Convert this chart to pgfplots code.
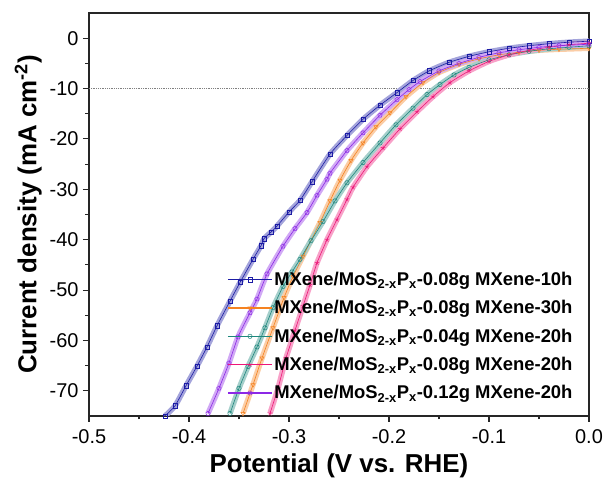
\documentclass[border=0pt]{standalone}
\usepackage{fontspec}
\setmainfont{Liberation Sans}
\usepackage{pgfplots}
\pgfplotsset{compat=1.18}
\usetikzlibrary{calc}
\definecolor{cblue}{RGB}{28,28,165}
\definecolor{corange}{RGB}{245,130,32}
\definecolor{cteal}{RGB}{30,135,125}
\definecolor{cpink}{RGB}{238,22,120}
\definecolor{cpurple}{RGB}{140,40,230}
\begin{document}
\begin{tikzpicture}
\begin{axis}[
  scale only axis, width=500bp, height=403bp,
  xmin=-0.5, xmax=0, ymin=-75, ymax=5,
  xtick={-0.5,-0.4,-0.3,-0.2,-0.1,0},
  ytick={-70,-60,-50,-40,-30,-20,-10,0},
  minor x tick num=1, minor y tick num=1,
  tick pos=left, tick align=outside,
  major tick length=6bp, minor tick length=3.5bp,
  axis line style={line width=1.2bp, black!85},
  every tick/.style={line width=1.1bp, black!85},
  /pgf/number format/assume math mode=true,
  ticklabel style={font=\fontsize{20}{24}\selectfont},
  xticklabel style={/pgf/number format/fixed, /pgf/number format/fixed zerofill, /pgf/number format/precision=1, yshift=-4bp},
  yticklabel style={xshift=-1bp},
  xlabel={\bfseries Potential (V vs. RHE)},
  ylabel={\bfseries Current density (mA cm\textsuperscript{-2})},
  label style={font=\fontsize{26}{30}\selectfont},
  xlabel style={yshift=-3bp},
  ylabel style={yshift=1bp},
  legend cell align=left,
  legend style={at={(0.27,0.366)}, anchor=north west, draw=none, fill=none,
    font=\bfseries\fontsize{18.5}{22}\selectfont, row sep=10.5bp,
    nodes={inner sep=1.5bp}},
  legend image code/.code={\draw[mark repeat=2,mark phase=2,#1,line width=1.6bp] plot coordinates {(0bp,0bp)(22bp,0bp)(44bp,0bp)};},
]
\addplot[gray, densely dotted, line width=0.8bp, forget plot] coordinates {(-0.5,-10)(0,-10)};

% bands
\addplot[cblue!40, line width=5.5bp, forget plot, smooth, tension=0.3] coordinates {
(-0.424,-75)(-0.414,-73)(-0.403,-69)(-0.392,-65.1)(-0.382,-61.3)(-0.372,-57.1)(-0.359,-52.2)(-0.349,-48.5)(-0.336,-43.9)(-0.328,-41.2)(-0.325,-39.8)(-0.318,-38.5)(-0.312,-37.3)(-0.300,-34.5)(-0.289,-32.2)(-0.277,-28.5)(-0.259,-23)(-0.242,-19.3)(-0.226,-16.1)(-0.209,-13.3)(-0.192,-10.8)(-0.176,-8.4)(-0.16,-6.5)(-0.14,-4.8)(-0.12,-3.6)(-0.10,-2.7)(-0.08,-2.0)(-0.06,-1.5)(-0.04,-1.1)(-0.02,-0.8)(0,-0.6)};
\addplot[corange!40, line width=5.5bp, forget plot, smooth, tension=0.3] coordinates {
(-0.346,-74.5)(-0.336,-68.8)(-0.327,-63.5)(-0.316,-57.5)(-0.305,-51.5)(-0.296,-47.3)(-0.286,-43.3)(-0.269,-36.6)(-0.259,-32.3)(-0.249,-28.2)(-0.238,-24.3)(-0.226,-20.8)(-0.213,-17.6)(-0.199,-14.8)(-0.183,-11.6)(-0.166,-8.8)(-0.15,-6.8)(-0.13,-5.2)(-0.11,-4.1)(-0.09,-3.3)(-0.07,-2.8)(-0.05,-2.4)(-0.03,-2.2)(0,-2.0)};
\addplot[cteal!40, line width=5.5bp, forget plot, smooth, tension=0.3] coordinates {
(-0.359,-74.5)(-0.350,-69.5)(-0.341,-65.2)(-0.332,-61.3)(-0.324,-57.5)(-0.316,-53.5)(-0.306,-49.3)(-0.297,-46.4)(-0.289,-43.9)(-0.278,-40.2)(-0.266,-36.4)(-0.254,-32.3)(-0.242,-28.7)(-0.226,-24.7)(-0.209,-20.8)(-0.193,-17.2)(-0.176,-13.9)(-0.162,-11.2)(-0.149,-9.2)(-0.135,-7.3)(-0.12,-5.8)(-0.10,-4.3)(-0.08,-3.3)(-0.06,-2.6)(-0.04,-2.1)(-0.02,-1.8)(0,-1.5)};
\addplot[cpink!40, line width=5.5bp, forget plot, smooth, tension=0.3] coordinates {
(-0.319,-74.5)(-0.311,-69.5)(-0.303,-63.5)(-0.294,-58)(-0.286,-53.2)(-0.279,-49)(-0.272,-44.6)(-0.262,-40)(-0.252,-36)(-0.242,-32)(-0.236,-29.6)(-0.222,-25.5)(-0.206,-21.8)(-0.189,-18.0)(-0.172,-14.6)(-0.156,-11.6)(-0.139,-8.8)(-0.12,-6.5)(-0.10,-4.6)(-0.08,-3.3)(-0.06,-2.4)(-0.04,-1.8)(-0.02,-1.3)(0,-1.0)};
\addplot[cpurple!40, line width=5.5bp, forget plot, smooth, tension=0.3] coordinates {
(-0.381,-74.5)(-0.370,-69.5)(-0.360,-64.5)(-0.351,-59.3)(-0.339,-54.5)(-0.332,-51.8)(-0.322,-46.8)(-0.306,-41.3)(-0.294,-37.8)(-0.282,-34.6)(-0.272,-31.2)(-0.262,-28)(-0.259,-26.8)(-0.242,-22.3)(-0.226,-18.8)(-0.209,-15.3)(-0.192,-12.2)(-0.180,-10.2)(-0.169,-8.6)(-0.15,-6.5)(-0.13,-5.0)(-0.11,-3.8)(-0.09,-2.9)(-0.07,-2.3)(-0.05,-1.8)(-0.03,-1.5)(0,-1.2)};

% marked lines
\addplot[cblue, line width=0.6bp, smooth, tension=0.3, mark=square, mark size=2.2bp, mark options={line width=0.5bp}] coordinates {
(-0.424,-75)(-0.414,-73)(-0.403,-69)(-0.392,-65.1)(-0.382,-61.3)(-0.372,-57.1)(-0.359,-52.2)(-0.349,-48.5)(-0.336,-43.9)(-0.328,-41.2)(-0.325,-39.8)(-0.318,-38.5)(-0.312,-37.3)(-0.300,-34.5)(-0.289,-32.2)(-0.277,-28.5)(-0.259,-23)(-0.242,-19.3)(-0.226,-16.1)(-0.209,-13.3)(-0.192,-10.8)(-0.176,-8.4)(-0.16,-6.5)(-0.14,-4.8)(-0.12,-3.6)(-0.10,-2.7)(-0.08,-2.0)(-0.06,-1.5)(-0.04,-1.1)(-0.02,-0.8)(0,-0.6)};
\addlegendentry{MXene/MoS\textsubscript{2-x}P\textsubscript{x}-0.08g MXene-10h}
\addplot[corange, line width=0.6bp, smooth, tension=0.3, mark=triangle, mark size=2.4bp, mark options={line width=0.5bp, rotate=180}] coordinates {
(-0.346,-74.5)(-0.336,-68.8)(-0.327,-63.5)(-0.316,-57.5)(-0.305,-51.5)(-0.296,-47.3)(-0.286,-43.3)(-0.269,-36.6)(-0.259,-32.3)(-0.249,-28.2)(-0.238,-24.3)(-0.226,-20.8)(-0.213,-17.6)(-0.199,-14.8)(-0.183,-11.6)(-0.166,-8.8)(-0.15,-6.8)(-0.13,-5.2)(-0.11,-4.1)(-0.09,-3.3)(-0.07,-2.8)(-0.05,-2.4)(-0.03,-2.2)(0,-2.0)};
\addlegendentry{MXene/MoS\textsubscript{2-x}P\textsubscript{x}-0.08g MXene-30h}
\addplot[cteal, line width=0.6bp, smooth, tension=0.3, mark=o, mark size=2.2bp, mark options={line width=0.5bp}] coordinates {
(-0.359,-74.5)(-0.350,-69.5)(-0.341,-65.2)(-0.332,-61.3)(-0.324,-57.5)(-0.316,-53.5)(-0.306,-49.3)(-0.297,-46.4)(-0.289,-43.9)(-0.278,-40.2)(-0.266,-36.4)(-0.254,-32.3)(-0.242,-28.7)(-0.226,-24.7)(-0.209,-20.8)(-0.193,-17.2)(-0.176,-13.9)(-0.162,-11.2)(-0.149,-9.2)(-0.135,-7.3)(-0.12,-5.8)(-0.10,-4.3)(-0.08,-3.3)(-0.06,-2.6)(-0.04,-2.1)(-0.02,-1.8)(0,-1.5)};
\addlegendentry{MXene/MoS\textsubscript{2-x}P\textsubscript{x}-0.04g MXene-20h}
\addplot[cpink, line width=0.6bp, smooth, tension=0.3, mark=star, mark size=2.4bp, mark options={line width=0.5bp}] coordinates {
(-0.319,-74.5)(-0.311,-69.5)(-0.303,-63.5)(-0.294,-58)(-0.286,-53.2)(-0.279,-49)(-0.272,-44.6)(-0.262,-40)(-0.252,-36)(-0.242,-32)(-0.236,-29.6)(-0.222,-25.5)(-0.206,-21.8)(-0.189,-18.0)(-0.172,-14.6)(-0.156,-11.6)(-0.139,-8.8)(-0.12,-6.5)(-0.10,-4.6)(-0.08,-3.3)(-0.06,-2.4)(-0.04,-1.8)(-0.02,-1.3)(0,-1.0)};
\addlegendentry{MXene/MoS\textsubscript{2-x}P\textsubscript{x}-0.08g MXene-20h}
\addplot[cpurple, line width=0.6bp, smooth, tension=0.3, mark=pentagon, mark size=2.3bp, mark options={line width=0.5bp}] coordinates {
(-0.381,-74.5)(-0.370,-69.5)(-0.360,-64.5)(-0.351,-59.3)(-0.339,-54.5)(-0.332,-51.8)(-0.322,-46.8)(-0.306,-41.3)(-0.294,-37.8)(-0.282,-34.6)(-0.272,-31.2)(-0.262,-28)(-0.259,-26.8)(-0.242,-22.3)(-0.226,-18.8)(-0.209,-15.3)(-0.192,-12.2)(-0.180,-10.2)(-0.169,-8.6)(-0.15,-6.5)(-0.13,-5.0)(-0.11,-3.8)(-0.09,-2.9)(-0.07,-2.3)(-0.05,-1.8)(-0.03,-1.5)(0,-1.2)};
\addlegendentry{MXene/MoS\textsubscript{2-x}P\textsubscript{x}-0.12g MXene-20h}
\end{axis}
\pgfresetboundingbox
\useasboundingbox ($(current axis.south west)+(-89bp,-63bp)$) rectangle ($(current axis.north east)+(19bp,13bp)$);
\end{tikzpicture}
\end{document}
